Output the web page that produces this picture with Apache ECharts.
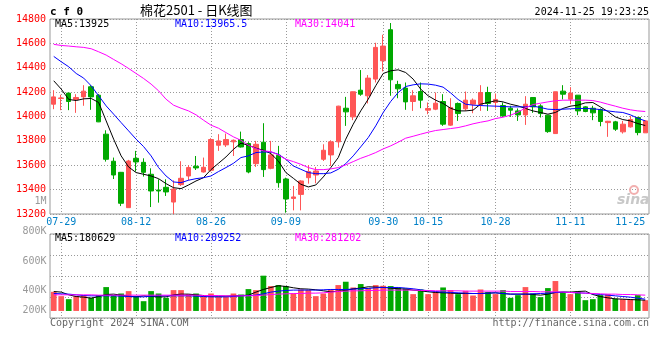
<!DOCTYPE html>
<html><head><meta charset="utf-8">
<script src="https://cdn.jsdelivr.net/npm/echarts@6/dist/echarts.min.js"></script>
<style>html,body{margin:0;padding:0;background:#fff}#c{width:660px;height:360px}</style>
</head><body><div id="c"></div>
<script>
const dates = ['07-26','07-29','07-30','07-31','08-01','08-02','08-05','08-06','08-07','08-08','08-09','08-12','08-13','08-14','08-15','08-16','08-19','08-20','08-21','08-22','08-23','08-26','08-27','08-28','08-29','08-30','09-02','09-03','09-04','09-05','09-06','09-09','09-10','09-11','09-12','09-13','09-18','09-19','09-20','09-23','09-24','09-25','09-26','09-27','09-30','10-08','10-09','10-10','10-11','10-14','10-15','10-16','10-17','10-18','10-21','10-22','10-23','10-24','10-25','10-28','10-29','10-30','10-31','11-01','11-04','11-05','11-06','11-07','11-08','11-11','11-12','11-13','11-14','11-15','11-18','11-19','11-20','11-21','11-22','11-25'];
const shownDates = ['07-29','08-12','08-26','09-09','09-30','10-15','10-28','11-11','11-25'];
const opens = [14101,14148,14192,14140,14161,14244,14175,13855,13633,13542,
13252,13657,13624,13526,13397,13419,13298,13441,13512,13592,
13545,13559,13764,13767,13792,13811,13778,13613,13789,13575,
13682,13487,13328,13361,13498,13520,13649,13685,13792,14068,
13997,14216,14170,14307,14457,14712,14263,14233,14123,14205,
14052,14060,14123,13929,14107,14063,14101,14096,14197,14115,
14090,14068,14046,14013,14156,14087,14011,13860,14208,14142,
14175,14079,14068,14057,13950,13956,13874,13915,13992,13866];
const closes = [14161,14152,14123,14156,14208,14161,13956,13649,13520,13288,
13635,13627,13542,13389,13389,13381,13405,13493,13581,13578,
13583,13811,13800,13811,13805,13750,13545,13772,13564,13685,
13457,13323,13340,13471,13548,13553,13723,13792,14085,14038,
14203,14183,14315,14567,14578,14301,14227,14120,14170,14134,
14066,14109,13937,14074,14024,14134,14134,14197,14107,14140,
14005,14052,14013,14101,14079,14024,13876,14203,14183,14192,
14046,14041,14030,13959,13961,13896,13937,13975,13868,13964];
const lows = [14060,14052,14052,14030,14088,14055,13954,13630,13487,13265,
13252,13548,13507,13257,13293,13348,13200,13430,13476,13561,
13540,13548,13718,13750,13676,13745,13534,13586,13504,13567,
13416,13211,13230,13230,13449,13452,13635,13594,13745,13923,
13970,14170,14107,14279,14370,14170,14150,14055,14046,14068,
14019,14052,13923,13923,13964,14046,14027,14046,14046,14066,
13997,13997,13964,13931,14030,13992,13866,13860,14140,14101,
14011,14035,13970,13920,13833,13882,13860,13909,13846,13866];
const highs = [14216,14178,14195,14183,14257,14257,14183,13887,13663,13545,
13644,13718,13657,13575,13485,13485,13476,13633,13600,13676,
13663,13822,13855,13860,13811,13876,13789,13800,13945,13800,
13759,13498,13430,13477,13602,13586,13772,13805,14088,14161,
14205,14381,14340,14605,14671,14767,14293,14279,14216,14279,
14115,14197,14183,14150,14115,14205,14148,14257,14244,14189,
14115,14088,14066,14167,14160,14101,14011,14203,14257,14241,
14175,14085,14088,14066,13964,13964,13964,14005,13997,13970];
const ma5 = [14293,14225,14140,14131,14145,14148,14115,13964,13814,13677,
13586,13540,13526,13512,13490,13449,13416,13408,13438,13471,
13498,13564,13616,13668,13731,13781,13764,13740,13723,13696,
13635,13540,13493,13444,13422,13438,13504,13581,13663,13814,
13937,14046,14142,14252,14353,14375,14383,14361,14307,14225,
14170,14134,14107,14068,14046,14046,14052,14101,14115,14129,
14120,14101,14087,14066,14046,14033,14019,14033,14066,14085,
14093,14112,14115,14079,14041,13997,13975,13964,13942,13926];
const ma10 = [14493,14449,14408,14353,14315,14252,14170,14087,14019,13950,
13882,13814,13753,13677,13581,13512,13463,13457,13477,13490,
13498,13512,13548,13581,13616,13663,13677,13704,13709,13709,
13690,13649,13594,13567,13540,13531,13531,13537,13567,13613,
13677,13751,13827,13923,14033,14123,14197,14246,14260,14268,
14266,14257,14241,14194,14140,14101,14093,14090,14087,14085,
14082,14079,14079,14079,14085,14074,14060,14057,14060,14063,
14066,14066,14063,14057,14046,14038,14033,14014,13986,13964];
const ma30 = [14592,14583,14578,14572,14567,14556,14531,14504,14468,14433,
14394,14353,14312,14266,14211,14142,14093,14068,14046,14014,
13970,13929,13904,13868,13833,13805,13764,13737,13718,13712,
13685,13649,13630,13608,13581,13564,13564,13570,13581,13603,
13630,13657,13679,13704,13734,13759,13789,13822,13838,13855,
13871,13885,13893,13901,13909,13923,13940,13953,13964,13983,
13994,14011,14035,14071,14098,14109,14120,14129,14134,14134,
14134,14134,14131,14118,14101,14085,14068,14055,14046,14041];
const volume = [304000,235000,187000,235000,251000,208000,251000,379000,251000,277000,
315000,235000,155000,315000,277000,208000,331000,331000,267000,277000,
251000,277000,224000,224000,277000,261000,347000,331000,560000,395000,
411000,395000,277000,341000,331000,235000,277000,341000,411000,464000,
373000,427000,363000,411000,400000,395000,368000,357000,267000,341000,
267000,304000,373000,331000,267000,320000,245000,341000,299000,267000,
331000,208000,251000,379000,277000,219000,363000,475000,299000,267000,
304000,171000,187000,251000,267000,197000,187000,187000,251000,171000];
const volMa5 = [309000,299000,256000,229000,219000,203000,229000,261000,267000,251000,
235000,224000,240000,229000,224000,224000,256000,267000,267000,256000,
245000,240000,235000,235000,240000,245000,251000,299000,341000,373000,
400000,389000,368000,352000,347000,336000,320000,304000,315000,325000,
352000,363000,384000,379000,373000,363000,352000,347000,331000,320000,
304000,293000,288000,283000,277000,277000,277000,277000,283000,288000,
277000,267000,267000,267000,261000,251000,267000,293000,299000,299000,
309000,315000,261000,229000,208000,192000,187000,181000,176000,171000];
const volMa10 = [277000,272000,267000,256000,245000,240000,240000,240000,240000,235000,
229000,224000,224000,235000,240000,240000,240000,240000,240000,235000,
229000,224000,224000,224000,229000,240000,245000,251000,272000,299000,
315000,325000,331000,331000,331000,331000,336000,341000,341000,341000,
347000,352000,357000,368000,373000,373000,373000,363000,352000,336000,
320000,309000,299000,293000,288000,283000,277000,277000,283000,288000,
277000,267000,267000,267000,272000,277000,283000,293000,299000,293000,
288000,283000,272000,261000,251000,240000,229000,219000,203000,187000];
const volMa30 = [256000,256000,256000,256000,256000,256000,251000,251000,251000,251000,
251000,251000,251000,251000,251000,251000,251000,251000,251000,251000,
245000,245000,245000,240000,240000,240000,240000,245000,251000,261000,
267000,272000,277000,277000,283000,283000,288000,299000,309000,315000,
320000,320000,325000,325000,331000,331000,331000,331000,331000,325000,
325000,320000,320000,320000,320000,315000,315000,315000,315000,315000,
315000,309000,309000,309000,309000,304000,304000,304000,299000,293000,
288000,283000,277000,272000,267000,267000,261000,261000,256000,251000];
const priceTicks = {min: 13200, max: 14800, step: 200};
const volTickLabels = ['800K','600K','400K','200K'];
const headerTitle = '棉花2501 - 日K线图';
const headerCode = 'c f 0';
const headerTime = '2024-11-25 19:23:25';
const maLabels = ['MA5:13925','MA10:13965.5','MA30:14041'];
const volMaLabels = ['MA5:180629','MA10:209252','MA30:281202'];

const UP = '#ff5656', DOWN = '#00a800';
const MONO = '"DejaVu Sans Mono", monospace';
const GRID_DASH = [1, 2];
const showIdx = (i) => shownDates.indexOf(dates[i]) >= 0;
const splitIdx = (i) => showIdx(i) && i !== dates.length - 1;

const chart = echarts.init(document.getElementById('c'), null, {renderer: 'canvas'});
const maColors = ['#000000', '#0000ff', '#ff00ff'];
function txt(x, y, text, fill, font, align) {
  return {type: 'text', x: x, y: y, z: 100, silent: true,
    style: {text: text, fill: fill, font: font, align: align || 'left', verticalAlign: 'middle'}};
}
const graphics = [
  txt(50, 12, headerCode, '#000', 'bold 11px ' + MONO),
  txt(140, 10, headerTitle, '#000', '13px "Noto Sans CJK SC"'),
  txt(649, 12, headerTime, '#000', '10px ' + MONO, 'right'),
  txt(55, 24, maLabels[0], maColors[0], '10px ' + MONO),
  txt(175, 24, maLabels[1], maColors[1], '10px ' + MONO),
  txt(295, 24, maLabels[2], maColors[2], '10px ' + MONO),
  txt(55, 238.5, volMaLabels[0], maColors[0], '10px ' + MONO),
  txt(175, 238.5, volMaLabels[1], maColors[1], '10px ' + MONO),
  txt(295, 238.5, volMaLabels[2], maColors[2], '10px ' + MONO),
  txt(46.5, 231, volTickLabels[0], '#999', '10px ' + MONO, 'right'),
  txt(46.5, 261, volTickLabels[1], '#999', '10px ' + MONO, 'right'),
  txt(46.5, 290, volTickLabels[2], '#999', '10px ' + MONO, 'right'),
  txt(46.5, 310, volTickLabels[3], '#999', '10px ' + MONO, 'right'),
  txt(46.5, 201, '1M', '#999', '10px ' + MONO, 'right'),
  txt(50, 323.5, 'Copyright 2024 SINA.COM', '#666', '10px ' + MONO),
  txt(649, 323.5, 'http://finance.sina.com.cn', '#666', '10px ' + MONO, 'right'),
  {type: 'circle', z: 1, silent: true, shape: {cx: 634, cy: 190, r: 4},
    style: {fill: 'none', stroke: '#f2b0b0', lineWidth: 2}},
  {type: 'text', x: 617, y: 200, z: 1, silent: true,
    style: {text: 'sina', fill: '#c8c8c8', font: 'italic bold 14px "DejaVu Sans"', verticalAlign: 'middle'}}
];

const option = {
  animation: false,
  backgroundColor: '#fff',
  graphic: graphics,
  grid: [
    {left: 50, top: 19, width: 599, height: 195, show: true, borderColor: '#999', borderWidth: 1},
    {left: 50, top: 234, width: 599, height: 84, show: true, borderColor: '#999', borderWidth: 1}
  ],
  xAxis: [
    {type: 'category', gridIndex: 0, data: dates, boundaryGap: true,
      axisLine: {show: false}, axisTick: {show: false, alignWithLabel: true},
      axisLabel: {interval: showIdx, color: '#0080c8', fontSize: 10, fontFamily: MONO, margin: 3, alignMaxLabel: 'right'},
      splitLine: {show: true, interval: splitIdx, alignWithLabel: true, lineStyle: {color: '#999', type: GRID_DASH, width: 1}}},
    {type: 'category', gridIndex: 1, data: dates, boundaryGap: true,
      axisLine: {show: false}, axisTick: {show: false, alignWithLabel: true},
      axisLabel: {show: false},
      splitLine: {show: true, interval: splitIdx, alignWithLabel: true, lineStyle: {color: '#999', type: GRID_DASH, width: 1}}}
  ],
  yAxis: [
    {type: 'value', gridIndex: 0, min: priceTicks.min, max: priceTicks.max, interval: priceTicks.step,
      axisLine: {show: false}, axisTick: {show: false},
      axisLabel: {color: '#ff0000', fontSize: 10, fontFamily: MONO, margin: 4, padding: [0, 0, 5, 0],
        formatter: (v) => String(v)},
      splitLine: {show: true, lineStyle: {color: '#999', type: GRID_DASH, width: 1}}},
    {type: 'value', gridIndex: 1, min: -112000, max: 1222000,
      axisLine: {show: false}, axisTick: {show: false}, axisLabel: {show: false}, splitLine: {show: false}},
    {type: 'value', gridIndex: 1, min: 0, max: 4, interval: 1, position: 'left',
      axisLine: {show: false}, axisTick: {show: false}, axisLabel: {show: false},
      splitLine: {show: true, lineStyle: {color: '#999', type: GRID_DASH, width: 1}}}
  ],
  series: [
    {type: 'candlestick', xAxisIndex: 0, yAxisIndex: 0, barWidth: 5,
      data: dates.map((d, i) => [opens[i], closes[i], lows[i], highs[i]]),
      itemStyle: {color: UP, color0: DOWN, borderColor: UP, borderColor0: DOWN, borderWidth: 1}},
    {type: 'line', xAxisIndex: 0, yAxisIndex: 0, data: ma5, symbol: 'none', lineStyle: {color: maColors[0], width: 1}},
    {type: 'line', xAxisIndex: 0, yAxisIndex: 0, data: ma10, symbol: 'none', lineStyle: {color: maColors[1], width: 1}},
    {type: 'line', xAxisIndex: 0, yAxisIndex: 0, data: ma30, symbol: 'none', lineStyle: {color: maColors[2], width: 1}},
    {type: 'bar', xAxisIndex: 1, yAxisIndex: 1, barWidth: '76%',
      data: volume.map((v, i) => ({value: v, itemStyle: {color: closes[i] >= opens[i] ? UP : DOWN}}))},
    {type: 'line', xAxisIndex: 1, yAxisIndex: 1, data: volMa5, symbol: 'none', lineStyle: {color: maColors[0], width: 1}},
    {type: 'line', xAxisIndex: 1, yAxisIndex: 1, data: volMa10, symbol: 'none', lineStyle: {color: maColors[1], width: 1}},
    {type: 'line', xAxisIndex: 1, yAxisIndex: 1, data: volMa30, symbol: 'none', lineStyle: {color: maColors[2], width: 1}}
  ]
};
chart.setOption(option);
</script>
</body></html>
